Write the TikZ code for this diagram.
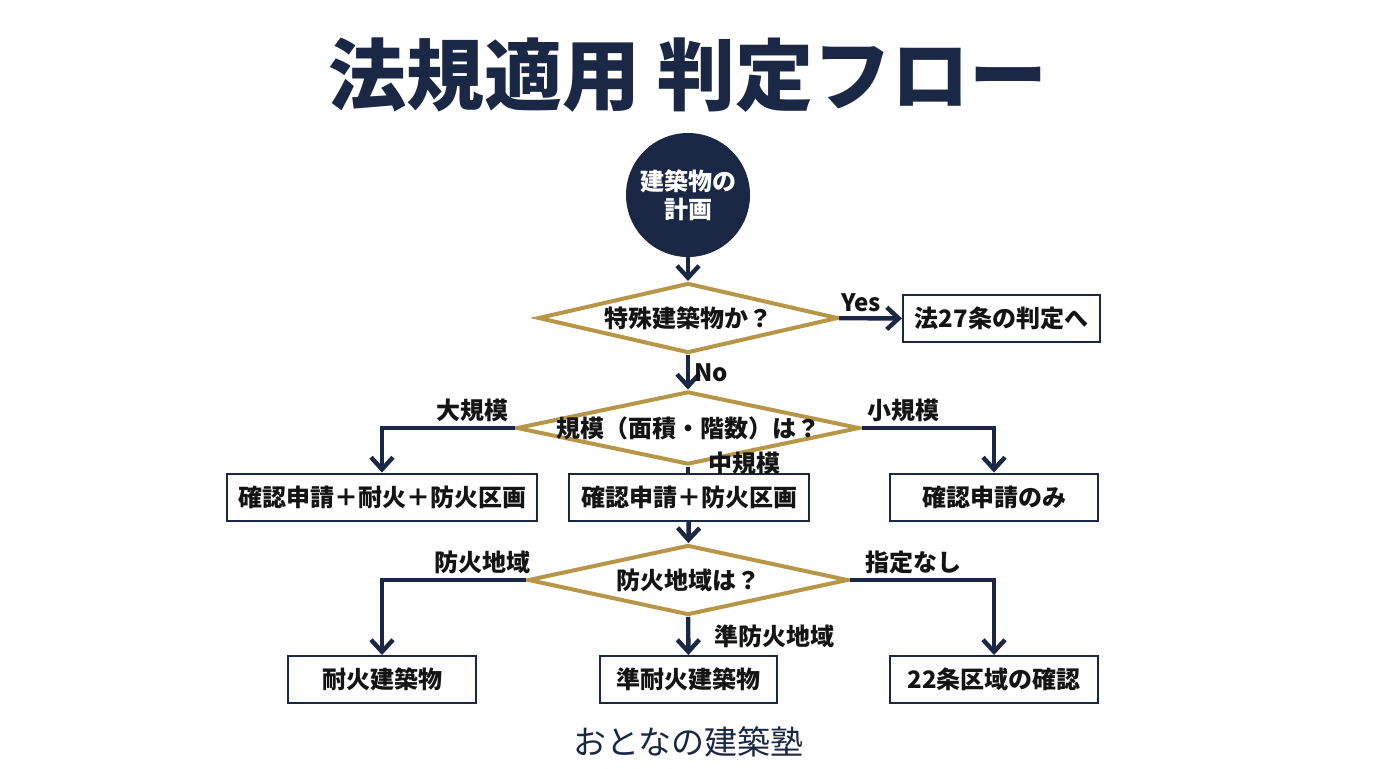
\documentclass[tikz,border=0pt]{standalone}
\usepackage{fontspec}
\setmainfont{Noto Sans CJK JP}
\usetikzlibrary{shapes.geometric}
\usetikzlibrary{arrows.meta}
\definecolor{navy}{HTML}{1B2845}
\definecolor{gold}{HTML}{B89648}
\definecolor{ink}{HTML}{141414}
\newcommand{\boxfont}{\bfseries\fontsize{12}{14}\selectfont}
\tikzstyle{startnode}=[circle,fill=navy,text=white,font=\boxfont,minimum size=62pt,inner sep=0pt,align=center]
\tikzstyle{question}=[diamond,draw=gold,line width=2pt,fill=white,inner sep=0pt]
\tikzstyle{result}=[rectangle,draw=navy,line width=1pt,fill=white,minimum height=23.5pt,inner sep=0pt,text=ink,font=\boxfont]
\tikzstyle{flow}=[navy,line width=2.2pt,-{Straight Barb[length=6pt,width=11pt]}]
\tikzstyle{branch}=[text=ink,font=\boxfont,inner sep=2pt]

\begin{document}
\begin{tikzpicture}[x=0.5pt,y=-0.5pt]
\useasboundingbox[fill=white] (0,0) rectangle (1376,768);
% title
\node[text=navy,font=\bfseries\fontsize{39}{45}\selectfont] (title) at (688,75) {法規適用 判定フロー};
% start
\node[startnode] (plan) at (688,195) {建築物の\\計画};
% questions
\node[question,minimum width=150pt,minimum height=35pt,label={[text=ink,font=\boxfont]center:特殊建築物か？}] (special) at (688,318) {};
\node[question,minimum width=171.5pt,minimum height=36.5pt,label={[text=ink,font=\boxfont]center:規模（面積・階数）は？}] (scale) at (688,428) {};
\node[question,minimum width=160pt,minimum height=35pt,label={[text=ink,font=\boxfont]center:防火地域は？}] (zone) at (688,580) {};
% results
\node[result,minimum width=98.5pt] (art27) at (1001.5,318.5) {法27条の判定へ};
\node[result,minimum width=155pt] (large) at (382,497) {確認申請＋耐火＋防火区画};
\node[result,minimum width=120pt] (medium) at (689,497) {確認申請＋防火区画};
\node[result,minimum width=104pt] (small) at (994,497) {確認申請のみ};
\node[result,minimum width=94pt] (fireproof) at (382,679.5) {耐火建築物};
\node[result,minimum width=88.5pt] (semifire) at (688.5,679.5) {準耐火建築物};
\node[result,minimum width=104pt] (art22) at (994,679.5) {22条区域の確認};
% connectors
\draw[flow] (plan) -- (special);
\draw[flow] (special) -- node[branch,above,pos=0.35] {Yes} (art27);
\draw[flow] (special) -- node[branch,right] {No} (scale);
\draw[flow] (scale.west) -| node[branch,above,pos=0.16] {大規模} (large.north);
\draw[flow] (scale.east) -| node[branch,above,pos=0.16] {小規模} (small.north);
\draw[navy,line width=2.2pt] (scale.south) -- node[branch,anchor=west,xshift=7pt,yshift=3pt] {中規模} (scale.south |- medium.north);
\draw[flow] (medium) -- (zone);
\draw[flow] (zone.west) -| node[branch,above,pos=0.15] {防火地域} (fireproof.north);
\draw[flow] (zone.east) -| node[branch,above,pos=0.22] {指定なし} (art22.north);
\draw[flow] (zone) -- node[branch,anchor=west,xshift=10pt] {準防火地域} (semifire);
% footer
\node[text=navy,font=\fontsize{16.5}{20}\selectfont] (brand) at (688,742) {おとなの建築塾};
\end{tikzpicture}
\end{document}
